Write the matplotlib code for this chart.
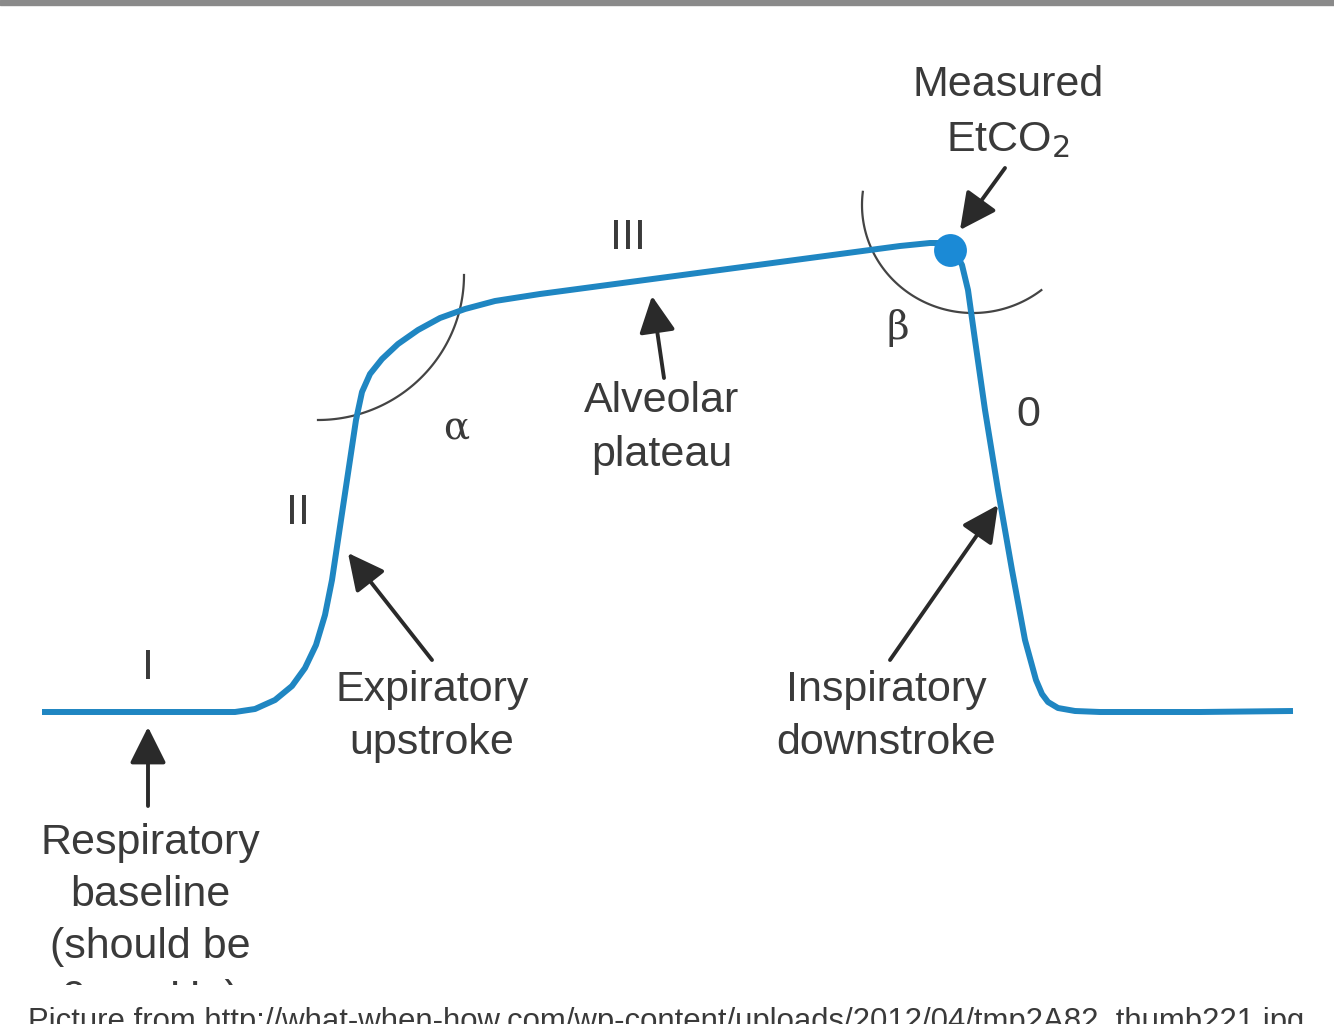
import numpy as np
import matplotlib
matplotlib.use("Agg")
import matplotlib.pyplot as plt
from matplotlib.patches import FancyArrowPatch, Rectangle

# ---- data (diagram coordinates, y grows downward) ----
curve_x = [42, 150, 235, 255, 275, 292, 305, 316, 325, 332, 338, 344, 350, 356, 362, 370, 382, 398,
           418, 440, 465, 495, 540, 600, 660, 720, 780, 840, 900, 930, 945,
           955, 962, 968, 975, 985, 998, 1012, 1025, 1036, 1042, 1048, 1058, 1075, 1100, 1200, 1293]
curve_y = [712, 712, 712, 709, 700, 686, 668, 645, 615, 580, 540, 500, 460, 420, 392, 374, 359, 344,
           330, 318, 309, 301, 294, 286, 278, 270, 262, 254, 246, 243, 243,
           252, 265, 290, 340, 410, 490, 570, 640, 680, 694, 702, 708, 711, 712, 712, 711]
dot_xy = (950, 250)

alpha_arc = dict(cx=318, cy=275, rx=146, ry=145, t0=0, t1=90)
beta_arc = dict(cx=973, cy=205, rx=111, ry=108, t0=52, t1=187)

arrows = {
    "etco2": ((1005, 168), (960, 230)),
    "plateau": ((664, 378), (652, 296)),
    "upstroke": ((432, 660), (348, 553)),
    "downstroke": ((890, 660), (998, 505)),
    "baseline": ((148, 806), (148, 727)),
}

labels = [
    ("Measured", 1008, 85), ("EtCO$_2$", 1008, 140),
    ("III", 628, 238), ("II", 298, 513), ("I", 148, 668), ("0", 1028, 415),
    ("Alveolar", 662, 401), ("plateau", 662, 455),
    ("Expiratory", 432, 690), ("upstroke", 432, 743),
    ("Inspiratory", 886, 690), ("downstroke", 886, 743),
    ("Respiratory", 150, 843), ("baseline", 150, 895), ("(should be", 150, 947), ("0 mmHg)", 150, 999),
]
greek = [("α", 456, 428), ("β", 898, 328)]
caption = "Picture from http://what-when-how.com/wp-content/uploads/2012/04/tmp2A82_thumb221.jpg"

# ---- figure ----
W, H = 1334, 1024
fig = plt.figure(figsize=(W / 100, H / 100), dpi=100)
ax = fig.add_axes([0, 0, 1, 1])
ax.set_xlim(0, W)
ax.set_ylim(H, 0)
ax.axis("off")

txt_c = "#3a3a3a"
font = ["Liberation Sans", "DejaVu Sans"]

# top border strip
ax.add_patch(Rectangle((0, 0), W, 5, color="#8a8a8a", zorder=1))

line_c = "#1f86c2"
ax.plot(curve_x, curve_y, color=line_c, lw=4.3, solid_capstyle="butt", solid_joinstyle="round", zorder=3)
ax.scatter([dot_xy[0]], [dot_xy[1]], s=560, color="#1b8ad6", zorder=4, linewidths=0)

def arc(p):
    t = np.radians(np.linspace(p["t0"], p["t1"], 100))
    return p["cx"] + p["rx"] * np.cos(t), p["cy"] + p["ry"] * np.sin(t)

ax.plot(*arc(alpha_arc), color="#444444", lw=1.6, zorder=2)
ax.plot(*arc(beta_arc), color="#444444", lw=1.6, zorder=2)

for (tail, head) in arrows.values():
    ax.add_patch(FancyArrowPatch(tail, head, arrowstyle="-|>,head_length=14,head_width=7",
                                 mutation_scale=1.6, color="#2a2a2a", lw=2.8, zorder=5,
                                 shrinkA=0, shrinkB=0))

clip_rect = Rectangle((0, 0), W, 985, transform=ax.transData, fill=False, lw=0)
ax.add_patch(clip_rect)
for s, x, y in labels:
    t = ax.text(x, y, s, ha="center", va="center", fontsize=31, color=txt_c, family=font,
                zorder=6, clip_on=True)
    t.set_clip_path(clip_rect)
for s, x, y in greek:
    ax.text(x, y, s, ha="center", va="center", fontsize=28, color=txt_c, family=["DejaVu Serif"], zorder=6)

ax.text(28, 1007, caption, ha="left", va="top", fontsize=22.4, color="#3a3a3a",
        family=["Liberation Sans Narrow", "Liberation Sans"], zorder=11)

fig.savefig("out.png", dpi=100, facecolor="white")
